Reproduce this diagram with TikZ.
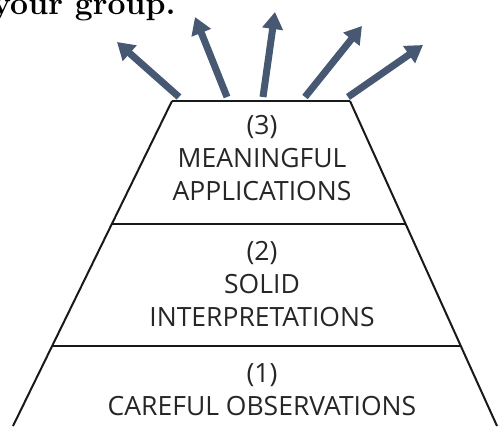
\documentclass[tikz,border=0pt]{standalone}
\usepackage{fontspec}
\setsansfont{Open Sans}
\usetikzlibrary{arrows.meta, calc}
\definecolor{rayblue}{HTML}{475873}

\begin{document}
\begin{tikzpicture}[x=1pt, y=-1pt, every node/.style={font=\sffamily\fontsize{26.5}{33}\selectfont}]
\tikzstyle{level} = [align=center, text=black!85, inner sep=0pt]
\tikzstyle{edge} = [draw=black!90, line width=2pt]
\tikzstyle{ray} = [draw=rayblue, line width=7pt, -{Triangle[length=17pt, width=20pt]}]

\useasboundingbox (0,0) rectangle (503,426);

\node[anchor=base west, inner sep=0pt, font=\rmfamily\bfseries\fontsize{32}{34}\selectfont] (heading) at (-8,14) {your group.};

\coordinate (tl) at (172,101);
\coordinate (tr) at (350,101);
\coordinate (bl) at (13,426);
\coordinate (br) at (497,426);

\draw[edge] (tl) -- (tr);
\draw[edge] (tl) -- (bl);
\draw[edge] (tr) -- (br);
\draw[edge] ($(tl)!0.378!(bl)$) -- ($(tr)!0.378!(br)$);
\draw[edge] ($(tl)!0.754!(bl)$) -- ($(tr)!0.754!(br)$);

\node[level] (three) at (262,158) {(3)\\MEANINGFUL\\APPLICATIONS};
\node[level] (two) at (262,284) {(2)\\SOLID\\INTERPRETATIONS};
\node[level] (one) at (262,390) {(1)\\CAREFUL OBSERVATIONS};

\coordinate (a1) at (179,97);
\coordinate (a2) at (227,97);
\coordinate (a3) at (263,97);
\coordinate (a4) at (305,97);
\coordinate (a5) at (348,97);
\coordinate (t1) at (117,42);
\coordinate (t2) at (195,17);
\coordinate (t3) at (275,12);
\coordinate (t4) at (362,26);
\coordinate (t5) at (423,45);

\draw[ray] (a1) -- (t1);
\draw[ray] (a2) -- (t2);
\draw[ray] (a3) -- (t3);
\draw[ray] (a4) -- (t4);
\draw[ray] (a5) -- (t5);

\end{tikzpicture}
\end{document}
